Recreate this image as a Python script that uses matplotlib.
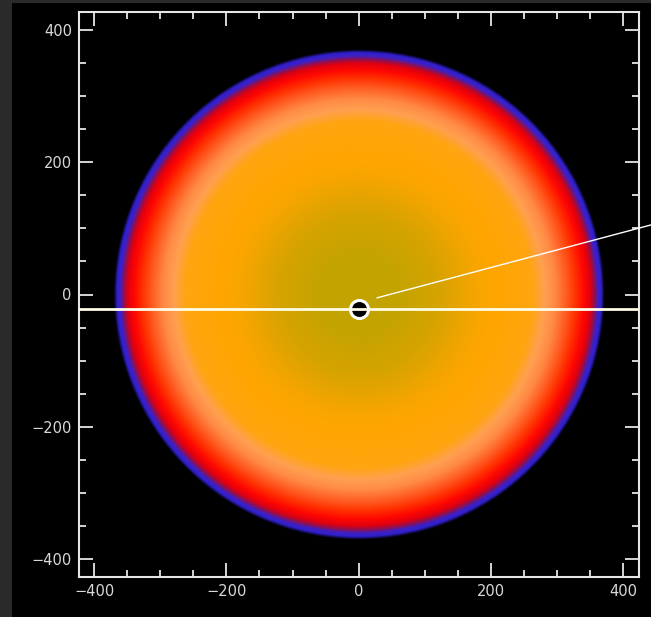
#!/usr/bin/env python3
""" Radial intensity disk with a cut line and a pointer.
"""
import numpy as np
import matplotlib
matplotlib.use('Agg')
import matplotlib.pyplot as plt
from matplotlib.colors import LinearSegmentedColormap
from matplotlib.patches import Rectangle
from matplotlib.ticker import MultipleLocator

# radial profile (radius in plot units, colour)
profile_r = [0, 60, 120, 180, 205, 262, 280, 296, 314, 328, 340, 350, 356, 361, 366, 371, 430]
profile_c = ['#c2a400', '#c4a300', '#d6a300', '#f8a500', '#ffa500', '#ffa510', '#ffa050',
             '#ff8a45', '#ff5a20', '#ff3000', '#ff0800', '#e00010', '#901050', '#4020c0',
             '#3020d0', '#000000', '#000000']

cut_y = -22                      # horizontal cut through the centre marker
centre = (0, -22)
pointer_x = [28, 445]
pointer_y = [-5, 106]

xticks = [-400, -200, 0, 200, 400]
yticks = [-400, -200, 0, 200, 400]
xlim = (-423, 424)
ylim = (-427, 427)


def main() -> None:
    fig = plt.figure(figsize=(6.51, 6.17), dpi=100, facecolor='#2a2a2a')
    fig.patches.append(Rectangle((12 / 651, 0), 1, (617 - 3) / 617, transform=fig.transFigure,
                                 facecolor='black', edgecolor='none', zorder=-5))
    fig.text(347 / 651, 1.004, 'y', color='white', fontsize=13, ha='center', va='bottom')

    ax = fig.add_axes([77 / 651, 40 / 617, 564 / 651, 565 / 617])
    ax.set_facecolor('black')

    rmax = profile_r[-1]
    cmap = LinearSegmentedColormap.from_list(
        'disk', [(r / rmax, c) for r, c in zip(profile_r, profile_c)], N=2048)
    xs = np.linspace(xlim[0], xlim[1], 800)
    ys = np.linspace(ylim[0], ylim[1], 800)
    X, Y = np.meshgrid(xs, ys)
    R = np.hypot(X, Y)
    ax.imshow(R, cmap=cmap, vmin=0, vmax=rmax, origin='lower',
              extent=(xlim[0], xlim[1], ylim[0], ylim[1]), interpolation='bilinear', zorder=1)

    ax.axhline(cut_y, color='#fffde8', linewidth=2, zorder=4)
    ax.plot([centre[0]], [centre[1]], marker='o', markersize=13, markerfacecolor='black',
            markeredgecolor='white', markeredgewidth=2.2, linestyle='None', zorder=3)
    ax.plot(pointer_x, pointer_y, color='white', linewidth=1, clip_on=False, zorder=5)

    ax.set_xlim(*xlim)
    ax.set_ylim(*ylim)
    ax.set_xticks(xticks)
    ax.set_yticks(yticks)
    ax.xaxis.set_minor_locator(MultipleLocator(50))
    ax.yaxis.set_minor_locator(MultipleLocator(50))
    ax.tick_params(which='both', direction='in', top=True, right=True, color='#e6e6e6',
                   labelcolor='#d8d8d8', labelsize=10.5)
    ax.tick_params(which='major', length=10, width=1.3, pad=5)
    ax.tick_params(which='minor', length=5, width=1.3)
    ax.set_xticklabels([str(v).replace('-', '\u2212') for v in xticks])
    ax.set_yticklabels([str(v).replace('-', '\u2212') for v in yticks])
    for s in ax.spines.values():
        s.set_color('#e6e6e6')
        s.set_linewidth(1.5)

    fig.savefig('out.png', dpi=100, facecolor=fig.get_facecolor())


if __name__ == "__main__":
    main()
